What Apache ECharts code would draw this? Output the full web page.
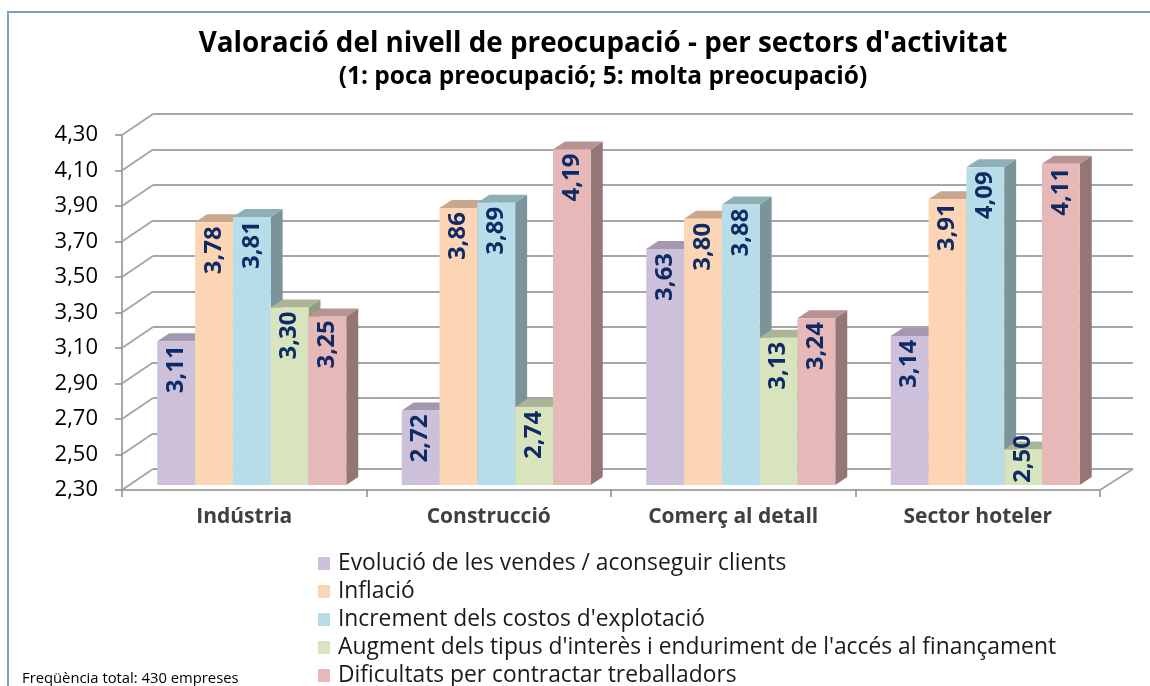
<!DOCTYPE html>
<html>
<head>
<meta charset="utf-8">
<script src="https://cdn.jsdelivr.net/npm/echarts@6/dist/echarts.min.js"></script>
<style>
  html, body { margin: 0; padding: 0; background: #fff; }
  #chart { width: 1150px; height: 686px; }
</style>
</head>
<body>
<div id="chart"></div>
<script>
// dades
const categories = ["Indústria", "Construcció", "Comerç al detall", "Sector hoteler"];
const seriesNames = [
  "Evolució de les vendes / aconseguir clients",
  "Inflació",
  "Increment dels costos d'explotació",
  "Augment dels tipus d'interès i enduriment de l'accés al finançament",
  "Dificultats per contractar treballadors"
];
const vendes = [3.11, 2.72, 3.63, 3.14];
const inflacio = [3.78, 3.86, 3.80, 3.91];
const costos = [3.81, 3.89, 3.88, 4.09];
const interes = [3.30, 2.74, 3.13, 2.50];
const treballadors = [3.25, 4.19, 3.24, 4.11];
const yTicks = [2.3, 2.5, 2.7, 2.9, 3.1, 3.3, 3.5, 3.7, 3.9, 4.1, 4.3];

const Y_MIN = 2.3;
const Y_MAX = 4.3;

// colors: front, top, side
const palette = [
  ["#CCC0DA", "#A398B0", "#8E849A"],
  ["#FCD5B5", "#C8A78D", "#B09078"],
  ["#B7DEE8", "#8FAFB6", "#7A9499"],
  ["#D7E4BD", "#A9B596", "#939E80"],
  ["#E6B9B8", "#B79392", "#957676"]
];
const allValues = [vendes, inflacio, costos, interes, treballadors];

const FONT = '"Open Sans", "Noto Sans", sans-serif';
const SHIFT = [7.5, -5];   // pla de les barres respecte al pla frontal
const DEPTH = [12, -8];    // profunditat de cada barra
const WALL = [31, -21];    // paret del fons

const fmt = (v) => v.toFixed(2).replace(".", ",");

function renderBar(idx) {
  const [front, top, side] = palette[idx];
  return function (params, api) {
    const cat = api.value(0);
    const val = api.value(1);
    const base = api.coord([cat, Y_MIN]);
    const tip = api.coord([cat, val]);
    const bandW = api.size([1, 0])[0];
    const groupW = bandW * 0.773;
    const barW = groupW / seriesNames.length;
    const x0 = base[0] - groupW / 2 + idx * barW + SHIFT[0];
    const x1 = x0 + barW;
    const yb = base[1] + SHIFT[1];
    const yt = tip[1] + SHIFT[1];
    const dx = DEPTH[0], dy = DEPTH[1];
    const textTop = Math.min(yt + 4, yb - 50);
    return {
      type: "group",
      children: [
        {
          type: "polygon",
          shape: { points: [[x1, yb], [x1 + dx, yb + dy], [x1 + dx, yt + dy], [x1, yt]] },
          style: { fill: side }
        },
        {
          type: "polygon",
          shape: { points: [[x0, yt], [x0 + dx, yt + dy], [x1 + dx, yt + dy], [x1, yt]] },
          style: { fill: top }
        },
        {
          type: "rect",
          shape: { x: x0, y: yt, width: barW, height: yb - yt },
          style: { fill: front }
        },
        {
          type: "text",
          x: x0 + barW / 2,
          y: textTop,
          rotation: Math.PI / 2,
          style: {
            text: fmt(val),
            fill: "#0F2B66",
            font: "bold 24px " + FONT,
            align: "right",
            verticalAlign: "middle"
          }
        }
      ]
    };
  };
}

const chart = echarts.init(document.getElementById("chart"));

const barSeries = seriesNames.map((name, i) => ({
  name: name,
  type: "custom",
  xAxisIndex: 0,
  yAxisIndex: 0,
  renderItem: renderBar(i),
  encode: { x: 0, y: 1 },
  itemStyle: { color: palette[i][0] },
  data: allValues[i].map((v, c) => [c, v]),
  z: 3 + i
}));

const option = {
  animation: false,
  textStyle: { fontFamily: FONT },
  graphic: [
    {
      type: "rect",
      shape: { x: 8, y: 12, width: 1300, height: 800 },
      style: { fill: "none", stroke: "#7F9DC8", lineWidth: 2 },
      z: 0
    }
  ],
  title: [
    {
      text: "Valoració del nivell de preocupació - per sectors d'activitat",
      left: 598,
      top: 25,
      textAlign: "center",
      textStyle: { fontSize: 27.8, fontWeight: "bold", color: "#000", fontFamily: FONT }
    },
    {
      text: "(1: poca preocupació; 5: molta preocupació)",
      left: 598,
      top: 60,
      textAlign: "center",
      textStyle: { fontSize: 24.5, fontWeight: "bold", color: "#000", fontFamily: FONT }
    },
    {
      text: "Freqüència total: 430 empreses",
      left: 17,
      top: 666,
      textStyle: { fontSize: 14.8, fontWeight: "normal", color: "#000", fontFamily: FONT }
    }
  ],
  legend: {
    orient: "vertical",
    left: 318,
    top: 552,
    height: 200,
    padding: 0,
    itemWidth: 12,
    itemHeight: 13,
    itemGap: 5,
    icon: "rect",
    data: seriesNames,
    textStyle: { fontSize: 22.8, color: "#1A1A1A", lineHeight: 22, padding: [0, 0, 0, 3], fontFamily: FONT }
  },
  grid: [
    { left: 122, top: 135, width: 978, height: 355 },
    { left: 122 + WALL[0], top: 135 + WALL[1], width: 980, height: 355 }
  ],
  xAxis: [
    {
      type: "category",
      gridIndex: 0,
      data: categories,
      axisLine: { lineStyle: { color: "#8C8C8C", width: 1.5 } },
      axisTick: { show: true, length: 7, alignWithLabel: false, lineStyle: { color: "#8C8C8C", width: 1.5 } },
      axisLabel: { fontSize: 21, fontWeight: "bold", color: "#404040", margin: 17, fontFamily: FONT },
      splitLine: { show: false }
    },
    {
      type: "category",
      gridIndex: 1,
      data: categories,
      show: false
    }
  ],
  yAxis: [
    {
      type: "value",
      gridIndex: 0,
      min: Y_MIN,
      max: Y_MAX,
      axisLine: { show: true, lineStyle: { color: "#8C8C8C", width: 1.5 } },
      axisTick: { show: true, length: 7, customValues: yTicks, lineStyle: { color: "#8C8C8C", width: 1.5 } },
      axisLabel: {
        customValues: yTicks,
        fontSize: 22,
        color: "#000",
        margin: 24,
        fontFamily: FONT,
        formatter: (v) => fmt(v)
      },
      splitLine: { show: false }
    },
    {
      type: "value",
      gridIndex: 1,
      min: Y_MIN,
      max: Y_MAX,
      axisLine: { show: false },
      axisTick: { show: false, customValues: yTicks },
      axisLabel: { show: false, customValues: yTicks },
      splitLine: { show: true, lineStyle: { color: "#A6A6A6", width: 2 } }
    }
  ],
  series: [
    {
      name: "parets",
      type: "custom",
      xAxisIndex: 0,
      yAxisIndex: 0,
      encode: { x: 0, y: 1 },
      data: yTicks.map((v) => [0, v]),
      renderItem: function (params, api) {
        const cs = params.coordSys;
        const v = api.value(1);
        const y = api.coord([0, v])[1];
        const style = { stroke: "#A6A6A6", lineWidth: 2 };
        const children = [
          {
            type: "line",
            shape: { x1: cs.x, y1: y, x2: cs.x + WALL[0], y2: y + WALL[1] },
            style: style
          }
        ];
        if (v === Y_MIN) {
          children.push({
            type: "line",
            shape: { x1: cs.x + cs.width, y1: y, x2: cs.x + cs.width + WALL[0] + 2, y2: y + WALL[1] },
            style: style
          });
        }
        return { type: "group", children: children };
      },
      z: 1,
      silent: true
    }
  ].concat(barSeries)
};

chart.setOption(option);
</script>
</body>
</html>
